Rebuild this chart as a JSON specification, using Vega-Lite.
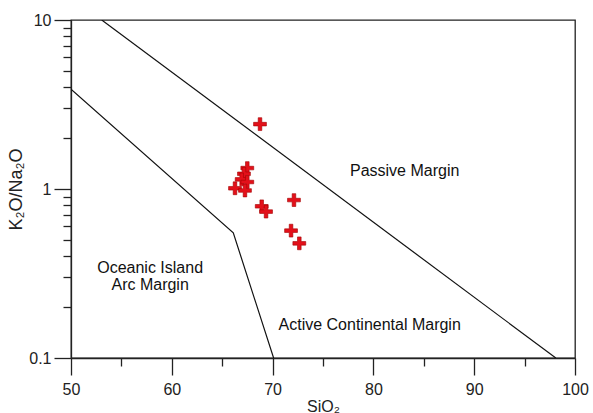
{
  "$schema": "https://vega.github.io/schema/vega-lite/v6.json",
  "width": 504,
  "height": 338,
  "autosize": {"type": "none"},
  "padding": {"left": 71, "top": 20, "right": 18, "bottom": 55},
  "background": "white",
  "config": {
    "view": {"stroke": "#222", "strokeWidth": 1.3},
    "font": "Liberation Sans",
    "axis": {
      "domainColor": "#222",
      "domainWidth": 1.3,
      "tickColor": "#222",
      "tickWidth": 1.3,
      "labelColor": "#222",
      "titleColor": "#222",
      "labelFont": "Liberation Sans",
      "titleFont": "Liberation Sans",
      "labelFontSize": 16,
      "titleFontSize": 16,
      "titleFontWeight": "normal",
      "grid": false,
      "labelFlush": false,
      "labelOverlap": false
    }
  },
  "datasets": {
    "boundaries": [
      {"boundary": "passive", "i": 0, "sio2": 53.05, "ratio": 10},
      {"boundary": "passive", "i": 1, "sio2": 98.1, "ratio": 0.1},
      {"boundary": "arc", "i": 0, "sio2": 50, "ratio": 3.9},
      {"boundary": "arc", "i": 1, "sio2": 66.1, "ratio": 0.55},
      {"boundary": "arc", "i": 2, "sio2": 70.1, "ratio": 0.1}
    ],
    "samples": [
      {"sio2": 68.75, "ratio": 2.42},
      {"sio2": 67.49, "ratio": 1.33},
      {"sio2": 67.16, "ratio": 1.23},
      {"sio2": 66.93, "ratio": 1.14},
      {"sio2": 67.49, "ratio": 1.1},
      {"sio2": 66.27, "ratio": 1.01},
      {"sio2": 67.26, "ratio": 0.98},
      {"sio2": 68.92, "ratio": 0.79},
      {"sio2": 69.35, "ratio": 0.735},
      {"sio2": 72.12, "ratio": 0.86},
      {"sio2": 71.83, "ratio": 0.567},
      {"sio2": 72.65, "ratio": 0.477}
    ],
    "regions": [
      {"label": "Passive Margin", "sio2": 83.1, "ratio": 1.28},
      {"label": "Oceanic Island", "sio2": 57.85, "ratio": 0.342},
      {"label": "Arc Margin", "sio2": 57.85, "ratio": 0.269},
      {"label": "Active Continental Margin", "sio2": 79.63, "ratio": 0.157}
    ]
  },
  "resolve": {"axis": {"x": "independent", "y": "independent"}},
  "layer": [
    {
      "data": {"name": "boundaries"},
      "mark": {"type": "line", "color": "#111", "strokeWidth": 1.2, "clip": true},
      "encoding": {
        "x": {
          "field": "sio2",
          "type": "quantitative",
          "scale": {"domain": [50, 100], "nice": false, "zero": false},
          "axis": {
            "orient": "bottom",
            "values": [50, 60, 70, 80, 90, 100],
            "tickSize": 17,
            "labelPadding": 6,
            "labelFontSize": 16,
            "title": "SiO₂",
            "titleFontSize": 16,
            "titlePadding": 1
          }
        },
        "y": {
          "field": "ratio",
          "type": "quantitative",
          "scale": {"type": "log", "domain": [0.1, 10], "nice": false},
          "axis": {
            "orient": "left",
            "values": [0.1, 1, 10],
            "format": "~g",
            "tickSize": 17,
            "labelPadding": 3,
            "labelFontSize": 16,
            "title": "K₂O/Na₂O",
            "titleFontSize": 18,
            "titlePadding": 3
          }
        },
        "detail": {"field": "boundary"},
        "order": {"field": "i"}
      }
    },
    {
      "data": {"name": "samples"},
      "mark": {
        "type": "point",
        "shape": "M-1,-0.28H-0.28V-1H0.28V-0.28H1V0.28H0.28V1H-0.28V0.28H-1Z",
        "filled": true,
        "fill": "#e3101a",
        "stroke": "#a30000",
        "strokeWidth": 0.6,
        "opacity": 1,
        "size": 165
      },
      "encoding": {
        "x": {
          "field": "sio2",
          "type": "quantitative",
          "axis": {
            "orient": "bottom",
            "values": [55, 65, 75, 85, 95],
            "tickSize": 8,
            "labels": false,
            "domain": false,
            "title": null
          }
        },
        "y": {
          "field": "ratio",
          "type": "quantitative",
          "axis": {
            "orient": "left",
            "values": [0.2, 0.3, 0.4, 0.5, 0.6, 0.7, 0.8, 0.9, 2, 3, 4, 5, 6, 7, 8, 9],
            "tickSize": 8,
            "labels": false,
            "domain": false,
            "title": null
          }
        }
      }
    },
    {
      "data": {"name": "regions"},
      "mark": {"type": "text", "fontSize": 16, "font": "Liberation Sans", "color": "#111", "baseline": "middle", "align": "center"},
      "encoding": {
        "x": {"field": "sio2", "type": "quantitative", "axis": null},
        "y": {"field": "ratio", "type": "quantitative", "axis": null},
        "text": {"field": "label"}
      }
    }
  ]
}
